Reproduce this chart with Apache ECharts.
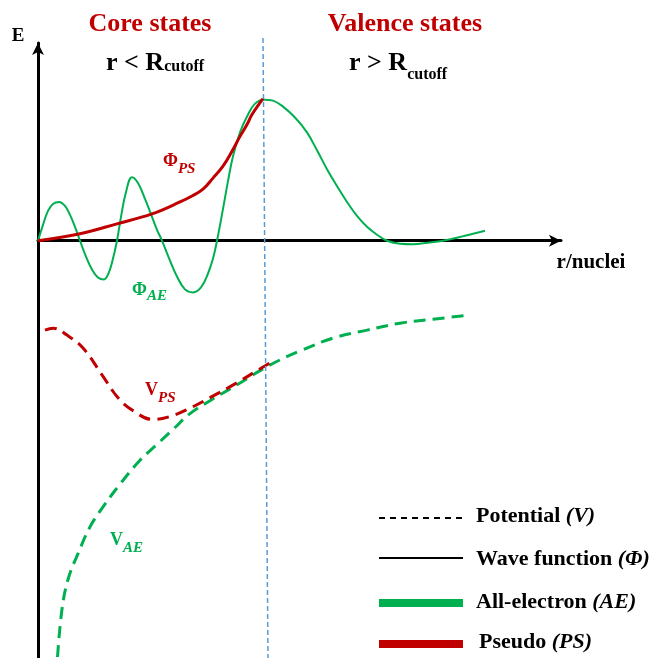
<!DOCTYPE html>
<html><head><meta charset="utf-8">
<script src="https://cdn.jsdelivr.net/npm/echarts@6/dist/echarts.min.js"></script>
<style>html,body{margin:0;padding:0;background:#fff}#c{width:652px;height:658px}</style>
</head><body><div id="c"></div>
<script>
// r (arbitrary units) vs E (arbitrary units)
const phiAE = [[0,0],[0.5,1.6],[1.0,3.0],[1.5,3.7],[2.1,3.9],[2.7,3.5],[3.2,2.6],[3.7,1.4],[4.2,0],
  [4.8,-1.6],[5.4,-2.9],[6.0,-3.7],[6.6,-3.9],[7.0,-3.4],[7.4,-2.2],[7.9,0],
  [8.3,2.4],[8.8,4.9],[9.4,6.4],[10.0,5.8],[10.7,4.2],[11.4,2.4],[11.9,1.1],[12.4,0],
  [13.2,-2.0],[13.9,-3.6],[14.7,-4.9],[15.5,-5.2],[16.3,-4.7],[17.0,-3.3],[17.5,-1.8],[17.9,0],
  [18.5,3.2],[19.0,6.0],[19.5,8.5],[20.2,10.9],[20.9,12.5],[21.7,13.8],[22.6,14.2],
  [23.5,14.1],[24.5,13.5],[25.7,12.4],[26.9,10.9],[27.9,9.1],[28.9,7.2],[29.9,5.5],[30.9,3.9],[31.9,2.5],[32.9,1.4],[33.9,0.6],[34.9,0],
  [36.2,-0.3],[37.5,-0.35],[39.0,-0.2],[40.5,0],[42.7,0.5],[44.7,1.0]];
const phiPS = [[0,0],[4.2,0.7],[7.9,1.7],[11.4,2.7],[14.2,3.9],[15.4,4.5],[16.5,5.2],[17.5,6.3],[18.5,7.5],[19.4,9.0],[20.2,10.5],[20.9,11.7],[21.4,12.7],[22.5,14.3]];
const vAE = [[1.95,-41.9],[2.4,-37.1],[3.0,-34.1],[4.0,-31.5],[5.2,-28.8],[6.5,-26.8],[8.2,-24.5],[10.2,-22.1],[11.9,-20.5],[13.5,-19.0],[15.2,-17.4],[17.2,-16.1],[19.9,-14.5],[22.5,-12.9],[24.2,-12.0],[26.2,-11.1],[29.5,-9.8],[32.9,-9.0],[36.2,-8.3],[39.5,-7.9],[43.0,-7.5]];
const vPS = [[0.7,-9.0],[1.5,-8.8],[2.9,-9.5],[4.5,-10.8],[6.4,-13.5],[8.0,-15.8],[9.5,-17.1],[11.5,-18.0],[13.2,-17.7],[14.9,-17.0],[17.2,-15.8],[19.9,-14.3],[21.7,-13.2],[23.2,-12.3]];
const rCutoffLine = [[22.5,20.4],[23.0,-42.0]];

const GREEN = '#00b050', RED = '#c00000', BLACK = '#000', BLUE = '#5b9bd5';
const SERIF = '"Liberation Serif","Times New Roman",serif';
const mctx = document.createElement('canvas').getContext('2d');
function fontStr(size, italic){ return (italic ? 'italic ' : '') + 'bold ' + size + 'px ' + SERIF; }
function measure(t, size, italic){ mctx.font = fontStr(size, italic); return mctx.measureText(t).width; }
function label(x, y, parts, align){
  const total = parts.reduce((s,p)=>s+measure(p[0],p[1],p[2]),0);
  let cx = align === 'center' ? x - total/2 : x;
  return parts.map(p=>{
    const el = {type:'text', x: cx, y: y + (p[4]||0), silent:true,
      style:{text:p[0], font:fontStr(p[1],p[2]), fill:p[3], textAlign:'left', align:'left', textVerticalAlign:'middle', verticalAlign:'middle'}};
    cx += measure(p[0],p[1],p[2]);
    return el;
  });
}

const graphics = [].concat(
  label(150, 24, [['Core states',26,false,RED]], 'center'),
  label(405, 24, [['Valence states',26,false,RED]], 'center'),
  label(106, 63, [['r < R',26,false,BLACK],['cutoff',16,false,BLACK,3.5]]),
  label(349, 63, [['r > R',26,false,BLACK],['cutoff',16,false,BLACK,11.5]]),
  label(18, 36, [['E',19,false,BLACK]], 'center'),
  label(591, 263, [['r/nuclei',21,false,BLACK]], 'center'),
  label(163, 161, [['Φ',18,false,RED],['PS',15,true,RED,8.5]]),
  label(132, 290, [['Φ',18,false,GREEN],['AE',15,true,GREEN,6.5]]),
  label(145, 390, [['V',18,false,RED],['PS',15,true,RED,8]]),
  label(110, 540, [['V',18,false,GREEN],['AE',15,true,GREEN,8]]),
  label(476, 516, [['Potential ',22,false,BLACK],['(V)',22,true,BLACK]]),
  label(476, 559, [['Wave function ',22,false,BLACK],['(Φ)',22,true,BLACK]]),
  label(476, 602, [['All-electron ',22,false,BLACK],['(AE)',22,true,BLACK]]),
  label(479, 642, [['Pseudo ',22,false,BLACK],['(PS)',22,true,BLACK]]),
  [
    {type:'line', silent:true, shape:{x1:379,y1:518,x2:463,y2:518}, style:{stroke:BLACK,lineWidth:1.8,lineDash:[6,5]}},
    {type:'line', silent:true, shape:{x1:379,y1:558,x2:463,y2:558}, style:{stroke:BLACK,lineWidth:2}},
    {type:'rect', silent:true, shape:{x:379,y:599,width:84,height:8}, style:{fill:GREEN}},
    {type:'rect', silent:true, shape:{x:379,y:640,width:84,height:8}, style:{fill:RED}}
  ]
);

const chart = echarts.init(document.getElementById('c'), null, {renderer:'canvas'});
chart.setOption({
  animation:false,
  backgroundColor:'#fff',
  grid:{left:38, top:43, width:523, height:619, containLabel:false},
  xAxis:{type:'value', min:0, max:52.3,
    axisLine:{onZero:true, symbol:['none','arrow'], symbolSize:[9,12], lineStyle:{color:BLACK,width:3}},
    axisTick:{show:false}, axisLabel:{show:false}, splitLine:{show:false}},
  yAxis:{type:'value', min:-42, max:19.9,
    axisLine:{show:true, onZero:false, symbol:['none','arrow'], symbolSize:[9,12], lineStyle:{color:BLACK,width:3}},
    axisTick:{show:false}, axisLabel:{show:false}, splitLine:{show:false}},
  series:[
    {name:'V_AE', type:'line', data:vAE, smooth:0.4, symbol:'none', lineStyle:{color:GREEN,width:3,type:[12,7]}, z:3},
    {name:'V_PS', type:'line', data:vPS, smooth:0.4, symbol:'none', lineStyle:{color:RED,width:3,type:[12,7]}, z:4},
    {name:'Φ_AE', type:'line', data:phiAE, smooth:0.4, symbol:'none', lineStyle:{color:GREEN,width:2}, z:3},
    {name:'Φ_PS', type:'line', data:phiPS, smooth:0.4, symbol:'none', lineStyle:{color:RED,width:3}, z:4},
    {name:'R_cutoff', type:'line', data:rCutoffLine, symbol:'none', clip:false, lineStyle:{color:BLUE,width:1.5,type:[5,3]}, z:5}
  ],
  graphic:graphics
});
</script>
</body></html>
